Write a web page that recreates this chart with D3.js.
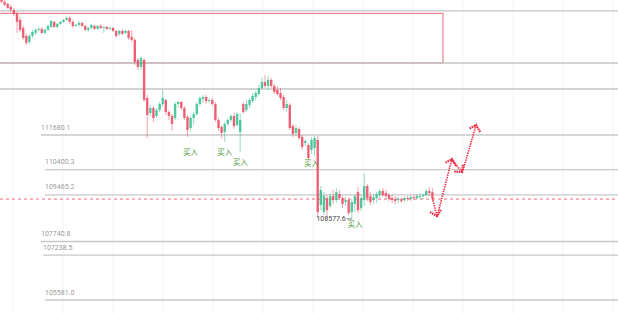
<!DOCTYPE html>
<html><head><meta charset="utf-8">
<script src="https://cdn.jsdelivr.net/npm/d3@7"></script>
<style>body{margin:0;background:#fff}svg{display:block}</style>
</head><body>
<svg id="c" width="618" height="313"></svg>
<script>
// ---------- DATA ----------
const open = [116749,116601,116527,116416,116305,116157,115935,115639,115343,115121,
115343,115454,115565,115602,115454,115565,115676,115861,115676,115787,
115861,115935,116009,115861,115713,115750,115824,115713,115565,115639,
115713,115602,115713,115639,115676,115602,115639,115528,115417,115528,
115454,115528,115306,115195,114455,114196,114455,113049,112494,112679,
112383,112605,112827,112975,112531,112383,112309,112827,112901,112679,
112346,111939,112309,112457,112827,113012,113086,112938,112975,112827,
112235,111976,111791,112087,112235,112383,112050,111791,112827,112605,
112790,112938,113086,113197,113419,113641,113493,113715,113493,113345,
113234,113086,112679,112790,112013,111754,111902,111606,111384,111310,
111125,111199,111495,109090,108831,109349,109053,109423,109275,109497,
109349,109201,109275,108831,109127,109571,108979,109275,109793,109423,
109275,109349,109460,109608,109534,109460,109349,109312,109275,109312,
109275,109349,109312,109386,109349,109386,109423,109460,109608,109571];
const close = [116601,116490,116379,116305,116157,115861,115565,115269,115084,115343,
115491,115565,115602,115454,115565,115713,115898,115676,115787,115861,
115935,116009,115861,115713,115750,115824,115713,115565,115639,115750,
115602,115713,115639,115676,115602,115639,115528,115343,115528,115417,
115528,115269,115195,114381,114196,114529,112975,112420,112679,112309,
112605,112827,113049,112531,112383,112087,112827,112901,112679,112309,
111865,112309,112457,112827,113049,113086,112938,112975,112827,112235,
111939,111754,112087,112235,112383,112013,112457,112235,112531,112827,
112975,113123,113234,113419,113641,113493,113715,113493,113271,113197,
113049,112679,112827,111939,111717,111939,111569,111236,111458,110829,
111495,111569,108831,109645,109423,108905,109423,109275,109571,109349,
109127,109275,108794,109201,109423,108905,109349,109793,109349,109201,
109386,109497,109608,109460,109423,109312,109275,109238,109312,109238,
109349,109312,109386,109349,109423,109423,109460,109608,109534,109349];
const high = [116823,116675,116564,116490,116379,116231,116046,115713,115417,115417,
115565,115639,115676,115676,115639,115750,115935,115898,115824,115898,
115972,116083,116083,115935,115787,115898,115861,115750,115676,115787,
115750,115750,115787,115713,115713,115676,115676,115565,115565,115602,
115565,115565,115565,115269,114529,114603,114529,113160,112790,112753,
112679,112901,113345,113012,112605,112457,112901,112938,112938,112753,
112420,112383,112531,112901,113123,113160,113160,113049,113049,112901,
112309,112050,112161,112309,112457,112494,112531,112494,112901,112975,
113049,113234,113308,113530,113789,113900,113863,113789,113567,113493,
113419,113160,112975,112864,112087,112050,111976,111680,111532,111384,
111606,111643,111643,109793,109571,109460,109534,109645,109719,109645,
109423,109386,109349,109312,109497,109756,109460,110274,109867,109571,
109497,109571,109682,109719,109645,109534,109460,109423,109386,109386,
109423,109423,109460,109460,109497,109534,109534,109682,109756,109719];
const low = [116564,116453,116342,116231,116083,115454,115491,115195,115010,115047,
115269,115380,115491,115417,115380,115528,115639,115639,115639,115750,
115824,115898,115787,115639,115676,115676,115676,115528,115491,115565,
115565,115565,115602,115454,115565,115565,115491,115269,115343,115380,
115417,115195,115121,114270,114085,114085,112901,111569,112383,112161,
112309,112531,112753,112420,112235,111828,112235,112679,112605,112235,
111606,111791,112050,112383,112753,112864,112827,112864,112753,112161,
111828,111569,111421,112013,112161,111902,111976,111051,112457,112531,
112679,112864,112975,113123,113345,113419,113345,113419,113197,113123,
112975,112605,112531,111865,111606,111643,111495,111125,111273,110755,
110977,110903,108609,108905,108720,108609,108979,109127,109164,109275,
108979,109053,108720,108577.6,108831,108794,108868,109053,109238,109090,
109127,109164,109349,109386,109349,109238,109164,109127,109164,109164,
109201,109238,109238,109275,109312,109312,109312,109386,109423,109238];

const levelPrices = [111680.1, 110400.3, 109465.2, 107740.8, 107238.5, 105581.0];
const levelLabels = ["111680.1", "110400.3", "109465.2", "107740.8", "107238.5", "105581.0"];
const fullLines = [116268, 114344, 113382];
const zoneBox = {i0: -5, i1: 142.4, top: 116175, bottom: 114344};
const currentPrice = 109312;
const lowMark = {i: 113, price: 108577.6, label: "108577.6"};
const buyIdx = [61, 72, 77, 100, 114];
const buyPrice = [111051, 111051, 110681, 110644, 108387];
const buyText = "买入";
// projected path (candle index, price)
const arrows = [
  [[139, 109349], [140.5, 108683]],
  [[140.8, 108794], [145.3, 110792]],
  [[145.3, 110755], [148.6, 110311]],
  [[148.9, 110385], [153.1, 112050]]
];

// ---------- LAYOUT ----------
const W = 618, H = 313;
const labelX = [41, 45, 45, 41, 43, 45];
const svg = d3.select("#c");
const x = d3.scaleLinear().domain([0, 139]).range([1.5, 432.4]);
const y = d3.scaleLinear().domain([105581.0, 111680.1]).range([300, 135]);
const font = "Roboto, 'Noto Sans', sans-serif";

// faint grid
const gridX = d3.range(13, W, 50);
svg.append("g").selectAll("line").data(gridX).join("line")
  .attr("x1", d => d).attr("x2", d => d).attr("y1", 0).attr("y2", H)
  .attr("stroke", "#f3f3f3").attr("stroke-width", 1);

// zone rectangle
svg.append("rect")
  .attr("x", x(zoneBox.i0)).attr("y", y(zoneBox.top))
  .attr("width", x(zoneBox.i1) - x(zoneBox.i0))
  .attr("height", y(zoneBox.bottom) - y(zoneBox.top))
  .attr("fill", "none").attr("stroke", "#e8838f").attr("stroke-width", 1.2);

// full-width lines
svg.append("g").selectAll("line").data(fullLines).join("line")
  .attr("x1", 0).attr("x2", W).attr("y1", d => y(d)).attr("y2", d => y(d))
  .attr("stroke", "#c4c4c4").attr("stroke-width", 1.4);

// labeled level lines
const lv = svg.append("g");
levelPrices.forEach((p, k) => {
  lv.append("line").attr("x1", labelX[k]).attr("x2", W)
    .attr("y1", y(p)).attr("y2", y(p))
    .attr("stroke", "#c8c8c8").attr("stroke-width", 1.4);
  lv.append("text").attr("x", labelX[k]).attr("y", y(p) - 5.5)
    .attr("font-family", font).attr("font-size", 7).attr("fill", "#9a9a9a")
    .text(levelLabels[k]);
});

// current price dashed line
svg.append("line").attr("x1", 0).attr("x2", W)
  .attr("y1", y(currentPrice)).attr("y2", y(currentPrice))
  .attr("stroke", "#ef6b7a").attr("stroke-width", 1).attr("stroke-dasharray", "3,3");

// candles
const up = "#3cc393", dn = "#ef5067";
const cg = svg.append("g");
open.forEach((o, i) => {
  const c = close[i];
  const col = c >= o ? up : dn;
  cg.append("line").attr("x1", x(i)).attr("x2", x(i))
    .attr("y1", y(high[i])).attr("y2", y(low[i]))
    .attr("stroke", col).attr("stroke-width", 1).attr("stroke-opacity", 0.55);
  const top = y(Math.max(o, c)), bot = y(Math.min(o, c));
  cg.append("rect").attr("x", x(i) - 1.2).attr("y", top)
    .attr("width", 2.4).attr("height", Math.max(1, bot - top))
    .attr("fill", col).attr("fill-opacity", 0.88);
});

// low marker
svg.append("line").attr("x1", x(lowMark.i) - 5).attr("x2", x(lowMark.i))
  .attr("y1", y(lowMark.price)).attr("y2", y(lowMark.price))
  .attr("stroke", "#555").attr("stroke-width", 0.8);
svg.append("text").attr("x", x(lowMark.i) - 6).attr("y", y(lowMark.price) + 2.5)
  .attr("text-anchor", "end").attr("font-family", font).attr("font-size", 7)
  .attr("fill", "#444").text(lowMark.label);

// buy labels
svg.append("g").selectAll("text").data(buyIdx).join("text")
  .attr("x", d => x(d)).attr("y", (d, k) => y(buyPrice[k]) + 3)
  .attr("text-anchor", "middle").attr("font-family", "'Noto Sans CJK SC', sans-serif")
  .attr("font-size", 7.5).attr("fill", "#4f9a3a").text(buyText);

// arrows
const ag = svg.append("g");
arrows.forEach(seg => {
  const [a, b] = seg;
  const x1 = x(a[0]), y1 = y(a[1]), x2 = x(b[0]), y2 = y(b[1]);
  ag.append("line").attr("x1", x1).attr("y1", y1).attr("x2", x2).attr("y2", y2)
    .attr("stroke", "#f0233c").attr("stroke-width", 1.6).attr("stroke-dasharray", "1.4,1");
  const ang = Math.atan2(y2 - y1, x2 - x1);
  const L = 8, spread = 0.8;
  const pts = [
    [x2 - L * Math.cos(ang - spread), y2 - L * Math.sin(ang - spread)],
    [x2, y2],
    [x2 - L * Math.cos(ang + spread), y2 - L * Math.sin(ang + spread)]
  ];
  ag.append("path").attr("d", d3.line()(pts))
    .attr("fill", "none").attr("stroke", "#f0233c").attr("stroke-width", 2.2)
    .attr("stroke-dasharray", "1.5,0.8");
});
</script>
</body></html>
